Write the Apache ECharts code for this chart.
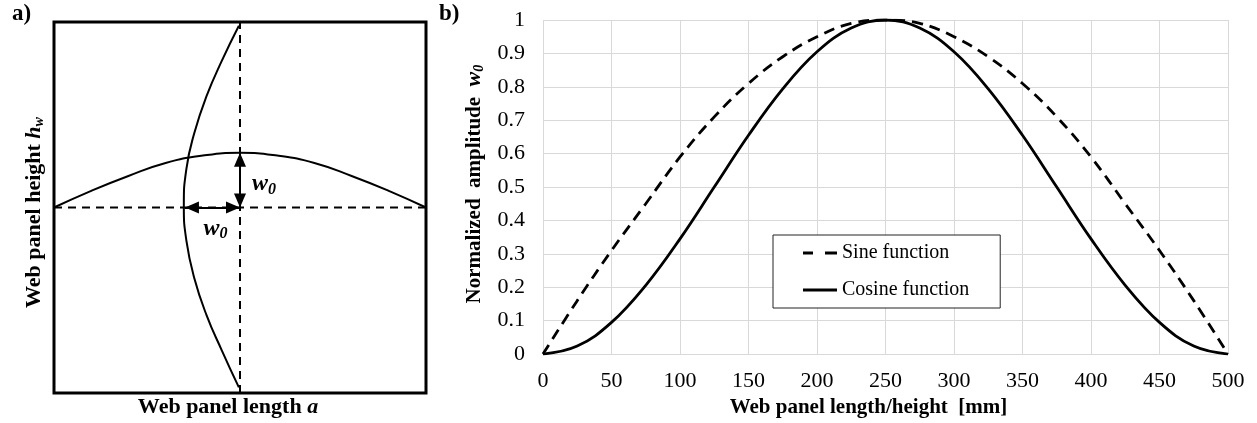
<!DOCTYPE html>
<html>
<head>
<meta charset="utf-8">
<title>Web panel imperfection shapes</title>
<script src="https://cdn.jsdelivr.net/npm/echarts@6/dist/echarts.min.js"></script>
<style>
  html, body { margin: 0; padding: 0; background: #fff; }
  #chart { width: 1257px; height: 423px; }
</style>
</head>
<body>
<div id="chart"></div>
<script>
// ---- (a) schematic of the initial imperfection ----
// position along the panel length, normalised 0..1
const spanPos = [0, 0.1, 0.2, 0.3, 0.4, 0.5, 0.6, 0.7, 0.8, 0.9, 1];
// bulge of the longitudinal half-wave (half panel height = 1)
const lengthBulge = [0, 0.09, 0.17, 0.24, 0.28, 0.295, 0.28, 0.24, 0.17, 0.09, 0];
// position along the panel height (-1 bottom .. 1 top)
const heightPos = [0.98, 0.79, 0.60, 0.40, 0.21, 0.01, -0.18, -0.38, -0.58, -0.77, -0.97];
// bulge of the transverse half-wave (panel length = 1)
const heightBulge = [0, 0.046, 0.087, 0.12, 0.141, 0.148, 0.141, 0.12, 0.087, 0.046, 0];
const panelMid = 0.5;

// ---- (b) normalised amplitude along the panel ----
const positionsMm = [0, 25, 50, 75, 100, 125, 150, 175, 200, 225, 250,
                     275, 300, 325, 350, 375, 400, 425, 450, 475, 500];
const sineValues = [0, 0.16, 0.31, 0.45, 0.59, 0.71, 0.81, 0.89, 0.95, 0.99, 1.00,
                    0.99, 0.95, 0.89, 0.81, 0.71, 0.59, 0.45, 0.31, 0.16, 0];
const cosineValues = [0, 0.024, 0.095, 0.206, 0.345, 0.50, 0.655, 0.794, 0.905, 0.976, 1.00,
                      0.976, 0.905, 0.794, 0.655, 0.50, 0.345, 0.206, 0.095, 0.024, 0];
const xTicks = [0, 50, 100, 150, 200, 250, 300, 350, 400, 450, 500];
const yTicks = [0, 0.1, 0.2, 0.3, 0.4, 0.5, 0.6, 0.7, 0.8, 0.9, 1];
const legendNames = ['Sine function', 'Cosine function'];

const SERIF = '"Liberation Serif", "Times New Roman", serif';
const BLACK = '#000';
const GRID_GREY = '#d9d9d9';

// legend keys: two dashes for the sine curve, a plain bar for the cosine curve
const DASHED_KEY = 'path://M0 0H10V3H0Z M22 0H34V3H22Z';
const SOLID_KEY = 'path://M0 0H34V3H0Z';

const zip = (xs, ys) => xs.map((x, i) => [x, ys[i]]);

const subRich = {
  b:   { fontFamily: SERIF, fontWeight: 'bold', fontSize: 22, color: BLACK },
  bx:  { fontFamily: SERIF, fontWeight: 'bold', fontSize: 21, color: BLACK },
  bi:  { fontFamily: SERIF, fontWeight: 'bold', fontStyle: 'italic', fontSize: 22, color: BLACK },
  sub: { fontFamily: SERIF, fontWeight: 'bold', fontStyle: 'italic', fontSize: 14, color: BLACK, padding: [10, 0, 0, 0] },
  w:   { fontFamily: SERIF, fontWeight: 'bold', fontStyle: 'italic', fontSize: 24, color: BLACK },
  w0:  { fontFamily: SERIF, fontWeight: 'bold', fontStyle: 'italic', fontSize: 16, color: BLACK, padding: [11, 0, 0, 0] }
};

const chart = echarts.init(document.getElementById('chart'), null, { renderer: 'canvas' });

const option = {
  animation: false,
  backgroundColor: '#fff',
  title: [
    { text: 'a)', left: 12, top: 3, padding: 0,
      textStyle: { fontFamily: SERIF, fontWeight: 'bold', fontSize: 23, color: BLACK } },
    { text: 'b)', left: 439, top: 3, padding: 0,
      textStyle: { fontFamily: SERIF, fontWeight: 'bold', fontSize: 23, color: BLACK } }
  ],
  grid: [
    { left: 54, top: 22, width: 372, height: 372, show: true,
      borderColor: BLACK, borderWidth: 3, backgroundColor: 'transparent' },
    { left: 543, top: 20, width: 685, height: 336 }
  ],
  legend: {
    data: [
      { name: legendNames[0], icon: DASHED_KEY },
      { name: legendNames[1], icon: SOLID_KEY }
    ],
    orient: 'vertical',
    left: 773, top: 235,
    padding: [8, 31, 8, 30],
    itemGap: 17,
    itemWidth: 34, itemHeight: 3,
    borderColor: '#222', borderWidth: 1,
    backgroundColor: '#fff',
    itemStyle: { color: BLACK },
    textStyle: { fontFamily: SERIF, fontSize: 20, color: BLACK }
  },
  xAxis: [
    { gridIndex: 0, type: 'value', min: 0, max: 1,
      axisLine: { show: false }, axisTick: { show: false },
      axisLabel: { show: false }, splitLine: { show: false },
      name: '{b|Web panel length }{bi|a}',
      nameLocation: 'middle', nameGap: 3,
      nameTextStyle: { fontFamily: SERIF, fontWeight: 'bold', fontSize: 22, color: BLACK,
                       padding: [0, 24, 0, 0], rich: subRich } },
    { gridIndex: 1, type: 'value', min: 0, max: 500, interval: 50,
      axisLine: { show: true, lineStyle: { color: GRID_GREY, width: 1 } },
      axisTick: { show: false },
      axisLabel: { margin: 16, fontFamily: SERIF, fontSize: 22, color: BLACK,
                   customValues: xTicks },
      splitLine: { show: true, lineStyle: { color: GRID_GREY, width: 1 } },
      name: 'Web panel length/height  [mm]',
      nameLocation: 'middle', nameGap: 39,
      nameTextStyle: { fontFamily: SERIF, fontWeight: 'bold', fontSize: 21, color: BLACK,
                       padding: [0, 34, 0, 0] } }
  ],
  yAxis: [
    { gridIndex: 0, type: 'value', min: -1, max: 1,
      axisLine: { show: false }, axisTick: { show: false },
      axisLabel: { show: false }, splitLine: { show: false },
      name: '{b|Web panel height }{bi|h}{sub|w}',
      nameLocation: 'middle', nameGap: 8, nameRotate: 90,
      nameTextStyle: { fontFamily: SERIF, fontWeight: 'bold', fontSize: 22, color: BLACK,
                       padding: [0, 10, 0, 0], rich: subRich } },
    { gridIndex: 1, type: 'value', min: 0, max: 1, interval: 0.1,
      axisLine: { show: false }, axisTick: { show: false },
      axisLabel: { margin: 18, fontFamily: SERIF, fontSize: 22, color: BLACK,
                   customValues: yTicks,
                   formatter: v => String(Math.round(v * 10) / 10) },
      splitLine: { show: true, lineStyle: { color: GRID_GREY, width: 1 } },
      name: '{bx|Normalized  amplitude  }{bi|w}{sub|0}',
      nameLocation: 'middle', nameGap: 56, nameRotate: 90,
      nameTextStyle: { fontFamily: SERIF, fontWeight: 'bold', fontSize: 21, color: BLACK,
                       padding: [0, 0, 0, 6], rich: subRich } }
  ],
  series: [
    // centre lines of the panel
    { type: 'line', xAxisIndex: 0, yAxisIndex: 0, symbol: 'none', silent: true,
      data: [[spanPos[0], 0], [spanPos[spanPos.length - 1], 0]],
      lineStyle: { color: BLACK, width: 2, type: [8, 6] }, z: 2 },
    { type: 'line', xAxisIndex: 0, yAxisIndex: 0, symbol: 'none', silent: true,
      data: [[panelMid, -1], [panelMid, 1]],
      lineStyle: { color: BLACK, width: 2, type: [8, 6] }, z: 2 },
    // longitudinal half-wave
    { type: 'line', xAxisIndex: 0, yAxisIndex: 0, symbol: 'none', smooth: true, silent: true,
      data: zip(spanPos, lengthBulge),
      lineStyle: { color: BLACK, width: 2 }, z: 3 },
    // transverse half-wave
    { type: 'line', xAxisIndex: 0, yAxisIndex: 0, symbol: 'none', smooth: true, silent: true,
      data: heightPos.map((y, i) => [panelMid - 0.003 - heightBulge[i], y]),
      lineStyle: { color: BLACK, width: 2 }, z: 3 },
    // amplitude arrows with their w0 labels
    { type: 'scatter', xAxisIndex: 0, yAxisIndex: 0, symbolSize: 0, silent: true,
      itemStyle: { opacity: 1, color: BLACK },
      data: [
        { value: [panelMid, Math.max(...lengthBulge) / 2],
          label: { offset: [24, 4] } },
        { value: [panelMid - Math.max(...heightBulge) / 2, 0],
          label: { offset: [3, 21] } }
      ],
      label: { show: true, position: 'inside', color: BLACK,
               formatter: '{w|w}{w0|0}', rich: subRich },
      markLine: {
        silent: true,
        symbol: ['triangle', 'triangle'],
        symbolSize: [12, 14],
        symbolOffset: [[0, 7], [0, 7]],
        label: { show: false },
        lineStyle: { color: BLACK, width: 2, type: 'solid', opacity: 1 },
        itemStyle: { color: BLACK, opacity: 1 },
        emphasis: { disabled: true },
        data: [
          [{ coord: [panelMid, 0] }, { coord: [panelMid, Math.max(...lengthBulge)] }],
          [{ coord: [panelMid - Math.max(...heightBulge), 0] }, { coord: [panelMid, 0] }]
        ]
      }, z: 4 },
    // panel b curves
    { name: legendNames[0], type: 'line', xAxisIndex: 1, yAxisIndex: 1,
      symbol: 'none', smooth: 0.4,
      data: zip(positionsMm, sineValues),
      lineStyle: { color: BLACK, width: 2.8, type: [11, 7] },
      itemStyle: { color: BLACK }, z: 5 },
    { name: legendNames[1], type: 'line', xAxisIndex: 1, yAxisIndex: 1,
      symbol: 'none', smooth: 0.4,
      data: zip(positionsMm, cosineValues),
      lineStyle: { color: BLACK, width: 2.8 },
      itemStyle: { color: BLACK }, z: 5 }
  ]
};

chart.setOption(option);
</script>
</body>
</html>
